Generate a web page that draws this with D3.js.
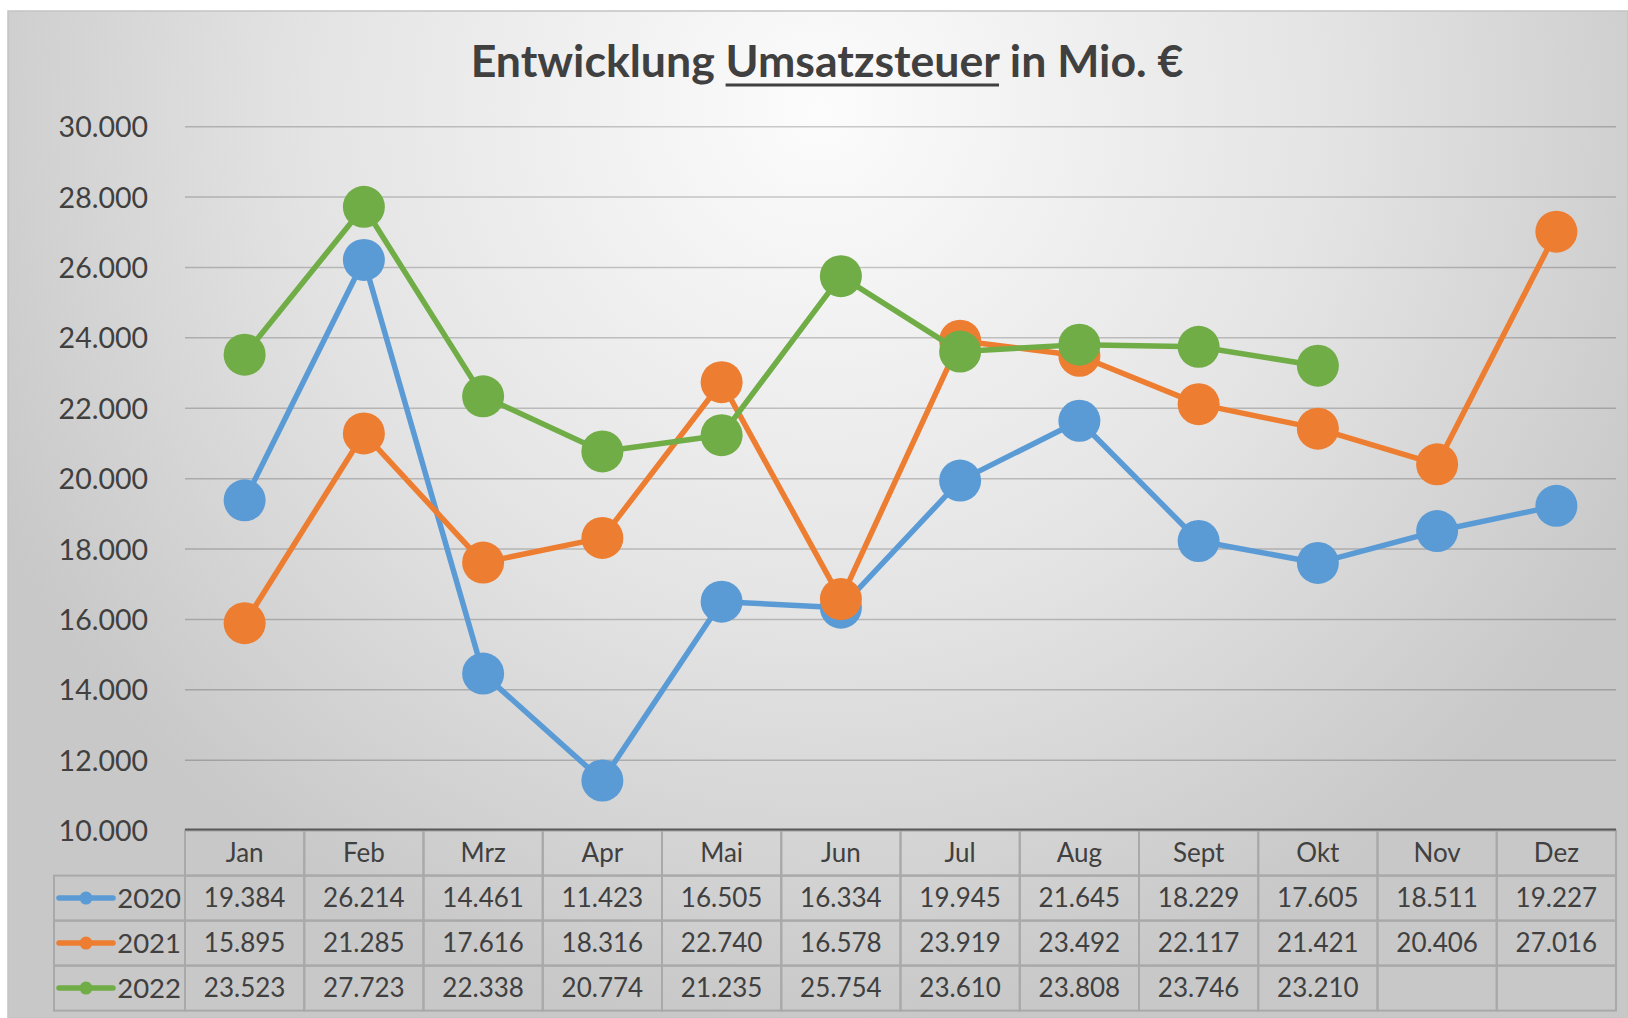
<!DOCTYPE html>
<html>
<head>
<meta charset="utf-8">
<script src="https://cdn.jsdelivr.net/npm/d3@7"></script>
<style>
  body { margin: 0; background: #fff; }
  svg text { font-family: Lato, "Open Sans", sans-serif; fill: #404040; }
</style>
</head>
<body>
<div class="chart"></div>
<script>
var svgWidth = 1628;
var svgHeight = 1018;

// data
var months = ["Jan", "Feb", "Mrz", "Apr", "Mai", "Jun", "Jul", "Aug", "Sept", "Okt", "Nov", "Dez"];
var years = ["2020", "2021", "2022"];
var values2020 = [19384, 26214, 14461, 11423, 16505, 16334, 19945, 21645, 18229, 17605, 18511, 19227];
var values2021 = [15895, 21285, 17616, 18316, 22740, 16578, 23919, 23492, 22117, 21421, 20406, 27016];
var values2022 = [23523, 27723, 22338, 20774, 21235, 25754, 23610, 23808, 23746, 23210, null, null];
var yTicks = [10000, 12000, 14000, 16000, 18000, 20000, 22000, 24000, 26000, 28000, 30000];
var colors = ["#5B9BD5", "#ED7D31", "#70AD47"];

var series = [values2020, values2021, values2022];

var de = d3.formatLocale({decimal: ",", thousands: ".", grouping: [3], currency: ["", " €"]});
var fmt = de.format(",.0f");

var svg = d3.select(".chart")
  .append("svg")
  .attr("width", svgWidth)
  .attr("height", svgHeight);

// background gradient
var defs = svg.append("defs");
var grad = defs.append("radialGradient")
  .attr("id", "bg")
  .attr("gradientUnits", "userSpaceOnUse")
  .attr("cx", 820).attr("cy", 110).attr("r", 920);
grad.append("stop").attr("offset", 0).attr("stop-color", "#fcfcfc");
grad.append("stop").attr("offset", 0.55).attr("stop-color", "#e4e4e4");
grad.append("stop").attr("offset", 1).attr("stop-color", "#c8c8c8");

svg.append("rect")
  .attr("x", 8).attr("y", 11)
  .attr("width", svgWidth - 8).attr("height", svgHeight - 11)
  .attr("fill", "url(#bg)")
  .attr("stroke", "#c4c4c4")
  .attr("stroke-width", 1.5);

// scales
var x = d3.scaleBand().domain(months).range([185, 1616]);
var y = d3.scaleLinear().domain([10000, 30000]).range([830.6, 126.7]);
var rowH = 45;

// gridlines
svg.append("g").selectAll("line")
  .data(yTicks.slice(1))
  .enter().append("line")
  .attr("x1", 185).attr("x2", 1616)
  .attr("y1", function(d) { return y(d); })
  .attr("y2", function(d) { return y(d); })
  .attr("stroke", "rgba(0,0,0,0.2)")
  .attr("stroke-width", 1.5);

// y axis labels
var yAxis = d3.axisLeft(y).tickValues(yTicks).tickFormat(fmt).tickSize(0).tickPadding(0);
var gy = svg.append("g")
  .attr("transform", "translate(148,0)")
  .call(yAxis);
gy.select(".domain").remove();
gy.selectAll("text")
  .attr("font-size", 28.5)
  .attr("dy", "0.35em")
  .style("font-family", "Lato, 'Open Sans', sans-serif")
  .attr("fill", "#404040");

// lines and markers, one series after the other
var line = d3.line()
  .defined(function(d) { return d != null; })
  .x(function(d, i) { return x(months[i]) + x.bandwidth() / 2; })
  .y(function(d) { return y(d); });

series.forEach(function(vals, s) {
  var g = svg.append("g");
  g.append("path")
    .datum(vals)
    .attr("d", line)
    .attr("fill", "none")
    .attr("stroke", colors[s])
    .attr("stroke-width", 5.5)
    .attr("stroke-linejoin", "round");
  g.selectAll("circle")
    .data(vals.map(function(v, i) { return {v: v, m: months[i]}; }).filter(function(d) { return d.v != null; }))
    .enter().append("circle")
    .attr("cx", function(d) { return x(d.m) + x.bandwidth() / 2; })
    .attr("cy", function(d) { return y(d.v); })
    .attr("r", 21)
    .attr("fill", colors[s]);
});

// data table
var table = svg.append("g");
var tableTop = y(10000);
var legendLeft = 54;

// header row cells
table.selectAll(".hcell")
  .data(months)
  .enter().append("rect")
  .attr("x", function(d) { return x(d); })
  .attr("y", tableTop)
  .attr("width", x.bandwidth())
  .attr("height", rowH)
  .attr("fill", "none")
  .attr("stroke", "#a9a9a9")
  .attr("stroke-width", 2);

table.selectAll(".htext")
  .data(months)
  .enter().append("text")
  .attr("x", function(d) { return x(d) + x.bandwidth() / 2; })
  .attr("y", tableTop + rowH / 2)
  .attr("dy", "0.35em")
  .attr("text-anchor", "middle")
  .attr("font-size", 26)
  .text(function(d) { return d; });

series.forEach(function(vals, s) {
  var top = tableTop + rowH * (s + 1);
  var row = table.append("g");
  row.append("rect")
    .attr("x", legendLeft).attr("y", top)
    .attr("width", 185 - legendLeft).attr("height", rowH)
    .attr("fill", "none").attr("stroke", "#a9a9a9").attr("stroke-width", 2);
  row.selectAll(".cell")
    .data(months)
    .enter().append("rect")
    .attr("x", function(d) { return x(d); })
    .attr("y", top)
    .attr("width", x.bandwidth())
    .attr("height", rowH)
    .attr("fill", "none")
    .attr("stroke", "#a9a9a9")
    .attr("stroke-width", 2);
  row.selectAll(".val")
    .data(vals)
    .enter().append("text")
    .attr("x", function(d, i) { return x(months[i]) + x.bandwidth() / 2; })
    .attr("y", top + rowH / 2)
    .attr("dy", "0.35em")
    .attr("text-anchor", "middle")
    .attr("font-size", 26)
    .text(function(d) { return d == null ? "" : fmt(d); });

  // legend key
  row.append("line")
    .attr("x1", 59).attr("x2", 113)
    .attr("y1", top + rowH / 2).attr("y2", top + rowH / 2)
    .attr("stroke", colors[s]).attr("stroke-width", 5.5).attr("stroke-linecap", "round");
  row.append("circle")
    .attr("cx", 86).attr("cy", top + rowH / 2).attr("r", 6.5)
    .attr("fill", colors[s]);
  row.append("text")
    .attr("x", 181).attr("y", top + rowH / 2)
    .attr("dy", "0.35em")
    .attr("text-anchor", "end")
    .attr("font-size", 27.5)
    .text(years[s]);
});

// axis line on top of table
table.append("line")
  .attr("x1", 185).attr("x2", 1616)
  .attr("y1", tableTop - 1).attr("y2", tableTop - 1)
  .attr("stroke", "#595959").attr("stroke-width", 2);

// title with underlined word
var title = svg.append("text")
  .attr("x", 827).attr("y", 77)
  .attr("text-anchor", "middle")
  .attr("font-size", 36)
  .attr("font-weight", "bold")
  .style("fill", "#404040");
title.append("tspan").text("Entwicklung ");
title.append("tspan").text("Umsatzsteuer");
title.append("tspan").text(" in Mio. €");

// fit title width to ~713px
var w = title.node().getComputedTextLength();
title.attr("font-size", 36 * 713 / w);
var tnode = title.node();
var s0 = tnode.getStartPositionOfChar(12).x;
var s1 = tnode.getEndPositionOfChar(23).x;
svg.append("line")
  .attr("x1", s0).attr("x2", s1)
  .attr("y1", 85).attr("y2", 85)
  .attr("stroke", "#404040").attr("stroke-width", 3);
</script>
</body>
</html>
